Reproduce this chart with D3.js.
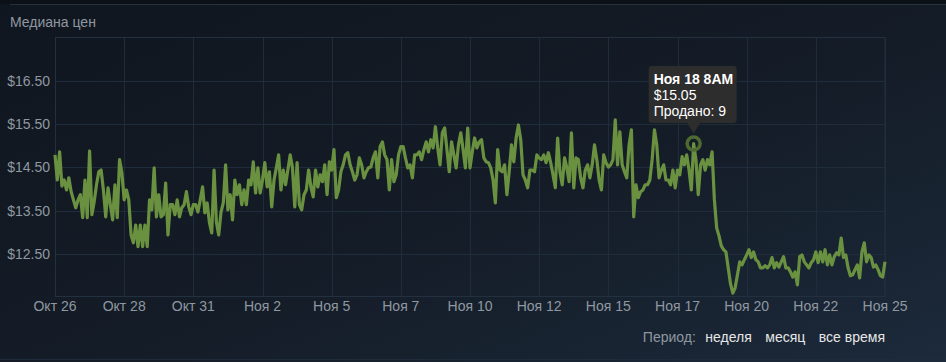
<!DOCTYPE html>
<meta charset="utf-8">
<head>
<title>Медиана цен</title>
<script src="https://cdn.jsdelivr.net/npm/d3@7"></script>
<style>
body {
    margin: 0;
    background: #121a24;
    font-family: Arial, "Liberation Sans", sans-serif;
}
.tick-label {
    font-size: 14px;
    fill: #8f98a0;
}
</style>
</head>
<body>
<script>
// Median price, one value every 2 hours starting Oct 26 6AM
const startTime = new Date(Date.UTC(2023, 9, 26, 6));
const stepHours = 2;
const prices = [
    14.79, 14.21, 14.86, 14.07, 14.21, 13.98, 14.26, 13.94, 13.75, 13.57, 13.75, 13.87, 13.34, 14.21, 13.34, 14.88, 13.41, 13.71, 14.10, 14.40,
    14.44, 13.98, 13.36, 14.03, 13.64, 13.29, 14.10, 13.34, 14.68, 14.38, 13.75, 13.98, 13.75, 12.94, 12.76, 13.17, 12.67, 13.17, 12.67, 13.17,
    12.67, 13.75, 13.52, 14.49, 13.36, 13.87, 13.36, 13.41, 14.14, 12.94, 13.64, 13.64, 13.41, 13.75, 13.36, 13.57, 13.64, 13.94, 13.59, 13.41,
    13.64, 13.64, 13.47, 13.75, 14.05, 13.45, 13.68, 13.22, 12.99, 14.44, 13.24, 12.94, 13.47, 13.68, 14.56, 13.52, 13.87, 13.29, 14.21, 13.87,
    14.10, 13.64, 13.98, 13.64, 14.21, 14.10, 14.63, 13.91, 14.49, 13.91, 14.21, 14.61, 14.05, 14.40, 13.59, 14.21, 14.49, 14.79, 13.98, 14.44,
    14.10, 14.44, 14.79, 14.49, 13.59, 14.61, 13.64, 13.52, 13.87, 13.98, 14.44, 14.05, 13.82, 14.44, 14.05, 14.33, 14.17, 14.56, 13.87, 14.63,
    14.44, 14.91, 13.80, 13.98, 14.40, 14.56, 14.79, 14.84, 14.56, 14.40, 14.21, 14.33, 14.72, 14.56, 14.26, 14.40, 14.49, 14.51, 14.72, 14.86,
    14.26, 14.98, 15.09, 14.79, 14.68, 13.98, 14.68, 14.17, 14.33, 14.79, 14.98, 14.98, 14.72, 14.49, 14.56, 14.26, 14.79, 14.79, 14.86, 14.68,
    14.91, 15.09, 14.86, 15.14, 14.95, 15.44, 14.95, 14.56, 15.30, 15.41, 14.91, 14.40, 15.09, 14.79, 14.49, 15.02, 15.30, 14.91, 14.49, 15.41,
    14.49, 14.86, 15.18, 14.95, 15.09, 15.14, 14.72, 14.63, 14.61, 14.49, 14.21, 13.68, 14.91, 14.44, 14.40, 14.56, 13.87, 14.40, 15.02, 14.63,
    15.18, 15.48, 15.14, 14.33, 14.21, 14.03, 14.44, 14.44, 14.40, 14.79, 14.72, 14.68, 14.79, 14.61, 14.84, 14.61, 14.33, 14.03, 15.18, 14.40,
    14.10, 14.72, 14.49, 14.17, 15.30, 14.03, 14.72, 14.68, 14.26, 14.03, 14.44, 14.56, 14.26, 14.56, 15.02, 14.68, 14.21, 13.98, 14.79, 14.61,
    14.51, 14.56, 14.68, 15.60, 14.56, 15.32, 14.56, 14.40, 14.26, 15.02, 15.37, 13.36, 14.10, 13.80, 13.94, 13.98, 14.10, 14.10, 14.21, 14.68,
    15.37, 15.02, 14.26, 14.44, 14.56, 14.21, 14.21, 14.10, 14.44, 14.03, 14.44, 14.33, 14.75, 14.56, 14.79, 14.44, 13.98, 15.05, 14.68, 13.87,
    14.56, 14.68, 14.44, 14.68, 14.56, 14.86, 13.75, 13.10, 12.92, 12.69, 12.60, 12.55, 12.18, 11.81, 11.60, 11.72, 12.02, 12.32, 12.25, 12.37,
    12.48, 12.60, 12.42, 12.55, 12.37, 12.32, 12.18, 12.18, 12.23, 12.18, 12.25, 12.42, 12.18, 12.30, 12.20, 12.32, 12.44, 12.18, 12.18, 12.09,
    11.97, 12.09, 11.79, 12.44, 12.48, 12.32, 12.25, 12.18, 12.30, 12.37, 12.55, 12.30, 12.55, 12.32, 12.60, 12.25, 12.48, 12.25, 12.44, 12.53,
    12.48, 12.87, 12.42, 12.48, 12.18, 12.00, 12.02, 12.14, 12.25, 11.95, 12.55, 12.76, 12.32, 12.48, 12.42, 12.20, 12.25, 12.14, 12.00, 11.97,
    12.32
];

const yTicks = [12.5, 13.5, 14.5, 15.5, 16.5];
const yDomain = [11.52, 17.5];
const xTickLabels = ["Окт 26", "Окт 28", "Окт 31", "Ноя 2", "Ноя 5", "Ноя 7", "Ноя 10",
                     "Ноя 12", "Ноя 15", "Ноя 17", "Ноя 20", "Ноя 22", "Ноя 25"];
const periodTitle = "Период:";
const periodLabels = ["неделя", "месяц", "все время"];

// highlighted point
const hoverIndex = 277;
const hoverDate = "Ноя 18 8AM";
const hoverSold = 9;

const width = 946, height = 362;
const plot = {left: 55.5, top: 37.5, right: 885, bottom: 296.5};

const svg = d3.select("body").append("svg")
    .attr("width", width)
    .attr("height", height);

// background
const defs = svg.append("defs");
const grad = defs.append("linearGradient")
    .attr("id", "bg")
    .attr("x1", 0).attr("y1", 0).attr("x2", 1).attr("y2", 1);
grad.append("stop").attr("offset", "0%").attr("stop-color", "#10161f");
grad.append("stop").attr("offset", "55%").attr("stop-color", "#141c27");
grad.append("stop").attr("offset", "100%").attr("stop-color", "#1c2a3b");
svg.append("rect").attr("width", width).attr("height", height).attr("fill", "url(#bg)");

svg.append("rect").attr("x", 0).attr("y", 0).attr("width", width).attr("height", 4)
    .attr("fill", "#0c1117");
svg.append("line")
    .attr("x1", 10).attr("x2", width).attr("y1", 4.5).attr("y2", 4.5)
    .attr("stroke", "#27323f");
svg.append("line")
    .attr("x1", 0).attr("x2", width).attr("y1", 359.5).attr("y2", 359.5)
    .attr("stroke", "#1e2b3b");

svg.append("text")
    .attr("x", 10).attr("y", 26.5)
    .attr("font-size", 14)
    .attr("fill", "#8f98a0")
    .text("Медиана цен");

// scales
const endTime = d3.utcHour.offset(startTime, (prices.length - 1) * stepHours);
const x = d3.scaleUtc()
    .domain([startTime, endTime])
    .range([plot.left - 0.5, plot.right]);
const y = d3.scaleLinear()
    .domain(yDomain)
    .range([plot.bottom, plot.top]);

const data = prices.map((p, i) => ({t: d3.utcHour.offset(startTime, i * stepHours), p: p}));
const xTicks = xTickLabels.map((d, i) => d3.utcHour.offset(startTime, i * 60));

// grid
const grid = svg.append("g");
grid.selectAll(".hgrid")
    .data(yTicks)
    .enter().append("line")
    .attr("x1", plot.left).attr("x2", plot.right)
    .attr("y1", d => Math.round(y(d)) + 0.5)
    .attr("y2", d => Math.round(y(d)) + 0.5)
    .attr("stroke", "#1f2c3b");
grid.selectAll(".vgrid")
    .data(xTicks)
    .enter().append("line")
    .attr("x1", d => Math.round(x(d)) + 0.5)
    .attr("x2", d => Math.round(x(d)) + 0.5)
    .attr("y1", plot.top).attr("y2", plot.bottom)
    .attr("stroke", "#1f2c3b");

svg.append("rect")
    .attr("x", plot.left).attr("y", plot.top)
    .attr("width", plot.right - plot.left).attr("height", plot.bottom - plot.top)
    .attr("fill", "none")
    .attr("stroke", "#23303f");

// axis labels
svg.selectAll(".ylab")
    .data(yTicks)
    .enter().append("text")
    .attr("class", "tick-label")
    .attr("x", 50)
    .attr("y", d => y(d) + 5)
    .attr("text-anchor", "end")
    .text(d => "$" + d3.format(".2f")(d));

svg.selectAll(".xlab")
    .data(xTicks)
    .enter().append("text")
    .attr("class", "tick-label")
    .attr("x", d => x(d))
    .attr("y", 310.5)
    .attr("text-anchor", "middle")
    .text((d, i) => xTickLabels[i]);

// price line
const line = d3.line()
    .x(d => x(d.t))
    .y(d => y(d.p));

svg.append("path")
    .datum(data)
    .attr("fill", "none")
    .attr("stroke", "#6a9140")
    .attr("stroke-width", 3.2)
    .attr("stroke-linejoin", "round")
    .attr("d", line);

// highlighted point + tooltip
const hp = data[hoverIndex];
const hx = x(hp.t), hy = y(hp.p);

svg.append("circle")
    .attr("cx", hx).attr("cy", hy)
    .attr("r", 6.5)
    .attr("fill", "none")
    .attr("stroke", "#4d6b30")
    .attr("stroke-width", 3.5);

const tip = svg.append("g");
tip.append("rect")
    .attr("x", hx - 45).attr("y", hy - 77.5)
    .attr("width", 88).attr("height", 57)
    .attr("rx", 3)
    .attr("fill", "#2d2d2e");
tip.append("path")
    .attr("d", `M${hx - 6.5},${hy - 20.5}L${hx + 6.5},${hy - 20.5}L${hx},${hy - 10}Z`)
    .attr("fill", "#2d2d2e");
const tipLines = [
    {text: hoverDate, bold: true},
    {text: "$" + d3.format(".2f")(hp.p), bold: false},
    {text: "Продано: " + hoverSold, bold: false}
];
tip.selectAll("text")
    .data(tipLines)
    .enter().append("text")
    .attr("x", hx - 40)
    .attr("y", (d, i) => hy - 59.5 + i * 15.7)
    .attr("font-size", 14)
    .attr("font-weight", d => d.bold ? "bold" : "normal")
    .attr("fill", "#ffffff")
    .text(d => d.text);

// zoom options
const period = svg.append("g").attr("font-size", 14);
let cursor = plot.right;
for (let i = periodLabels.length - 1; i >= 0; i--) {
    const t = period.append("text")
        .attr("y", 342)
        .attr("fill", "#e6e6e6")
        .text(periodLabels[i]);
    const w = t.node().getComputedTextLength();
    cursor -= w;
    t.attr("x", cursor);
    cursor -= 13.5;
}
const pt = period.append("text")
    .attr("y", 342)
    .attr("fill", "#8f98a0")
    .text(periodTitle);
cursor += 4;
pt.attr("x", cursor - pt.node().getComputedTextLength());
</script>
</body>
</html>
